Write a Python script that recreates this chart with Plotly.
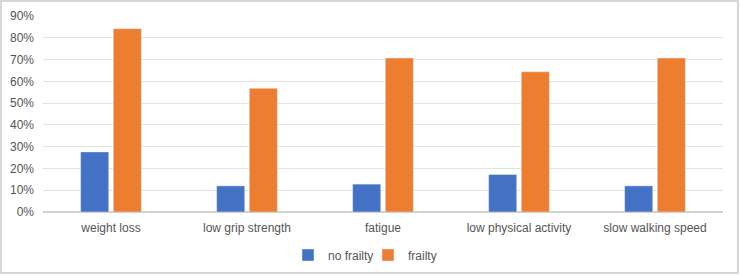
import plotly.graph_objects as go

categories = ["weight loss", "low grip strength", "fatigue", "low physical activity", "slow walking speed"]
no_frailty = [0.276, 0.120, 0.128, 0.172, 0.120]
frailty = [0.842, 0.568, 0.707, 0.644, 0.707]
tick_vals = [0, 0.1, 0.2, 0.3, 0.4, 0.5, 0.6, 0.7, 0.8, 0.9]
tick_text = ["0%", "10%", "20%", "30%", "40%", "50%", "60%", "70%", "80%", "90%"]

W, H = 740, 276
L, R, T, B = 43, 17, 16, 64
pw, ph = W - L - R, H - T - B

fig = go.Figure()
fig.add_trace(go.Bar(x=categories, y=no_frailty, name="no frailty", marker_color="#4472C4"))
fig.add_trace(go.Bar(x=categories, y=frailty, name="frailty", marker_color="#ED7D31"))

font = dict(family="Liberation Sans, Arial, sans-serif", size=12, color="#555555")

fig.update_layout(
    width=W, height=H,
    margin=dict(l=L, r=R, t=T, b=B, autoexpand=False),
    paper_bgcolor="white", plot_bgcolor="white",
    barmode="group", bargap=0.52, bargroupgap=0.14,
    font=font,
    showlegend=True,
    legend=dict(orientation="h", x=(368 - L) / pw, xanchor="center",
                y=(H - B - 255) / ph, yanchor="middle", font=font,
                itemwidth=30, traceorder="normal", entrywidth=35,
                entrywidthmode="pixels"),
    xaxis=dict(showgrid=False, ticks="", showline=False, tickfont=font,
               zeroline=False, automargin=False, ticklabelstandoff=7),
    yaxis=dict(range=[0, 0.9], tickvals=tick_vals, ticktext=tick_text,
               showgrid=True, gridcolor="#e2e2e2", gridwidth=1,
               zeroline=True, zerolinecolor="#d0d0d0", zerolinewidth=1.5,
               showline=False, ticks="", tickfont=font, ticklabelstandoff=8,
               automargin=False),
    shapes=[dict(type="rect", xref="paper", yref="paper",
                 x0=(1 - L) / pw, x1=(W - 2 - L) / pw,
                 y0=(H - B - (H - 3)) / ph, y1=(H - B - 1) / ph,
                 line=dict(color="#d6d6d6", width=2), fillcolor="rgba(0,0,0,0)",
                 layer="below")],
)

fig.write_html("out.html")
